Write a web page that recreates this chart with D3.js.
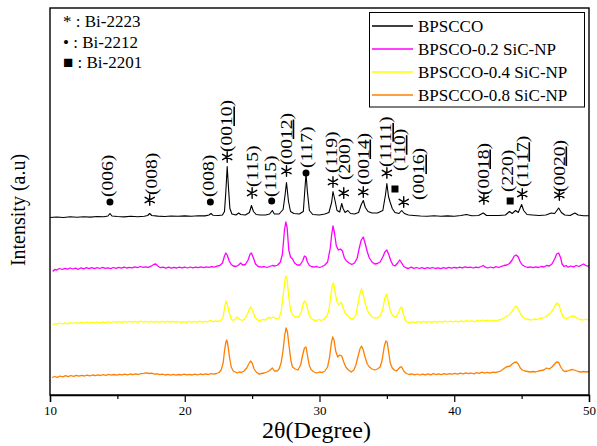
<!DOCTYPE html>
<html><head><meta charset="utf-8">
<script src="https://cdn.jsdelivr.net/npm/d3@7"></script>
<style>
html,body{margin:0;padding:0;background:#fff;}
svg{display:block;}
</style></head>
<body>
<svg id="chart" width="597" height="446"></svg>
<script>
// ---------------- DATA ----------------
const seriesNames = ["BPSCCO", "BPSCO-0.2 SiC-NP", "BPSCCO-0.4 SiC-NP", "BPSCCO-0.8 SiC-NP"];
const seriesColors = ["#000000", "#ff00ff", "#ffff00", "#ff7f00"];
const seriesOffsets = [178.5, 127, 73, 20];
const xTicks = [10, 20, 30, 40, 50];
const xMinorTicks = [15, 25, 35, 45];
const phaseLegend = ["* : Bi-2223", "\u2022 : Bi-2212", "\u25A0 : Bi-2201"];

const bpscco = [[10.0,-1],[10.5,-0.5],[11.0,-1],[11.5,-0.3],[12.0,-0.8],[12.5,-0.2],[13.0,-0.6],[13.5,0],[14.0,-0.3],[14.3,0.5],[14.45,3],[14.6,0.5],[15.0,0],[15.5,-0.4],[16.0,0.2],[16.5,-0.3],[17.0,0.3],[17.25,1],[17.4,3],[17.55,1],[18.0,0.4],[18.5,0],[19.0,0.5],[19.5,0.2],[20.0,0.6],[20.5,0.3],[21.0,0.8],[21.5,0.6],[21.8,1.5],[21.95,3],[22.1,1.2],[22.5,1],[22.8,1.5],[22.95,5],[23.05,25],[23.15,50],[23.25,28],[23.35,8],[23.5,2.5],[23.8,1.5],[24.0,3.5],[24.15,2],[24.5,1.5],[24.8,4],[24.95,11],[25.1,5],[25.3,2],[25.6,1.5],[26.0,1.5],[26.3,2.5],[26.5,6],[26.65,2.5],[27.0,2.5],[27.3,7],[27.45,22],[27.55,34],[27.7,15],[27.85,5],[28.1,3],[28.5,2.5],[28.8,5],[28.92,28],[29.0,43],[29.1,25],[29.25,6],[29.5,2],[30.0,1.5],[30.4,2.5],[30.7,4],[30.9,14],[31.0,25],[31.15,16],[31.3,6],[31.5,4.5],[31.65,13],[31.75,8],[31.9,4],[32.1,6],[32.3,3],[32.6,2.5],[32.9,4],[33.1,12],[33.25,16],[33.4,9],[33.6,5],[33.9,3.5],[34.3,3.5],[34.7,6],[34.9,22],[35.0,33],[35.12,20],[35.25,14],[35.4,8],[35.6,4],[35.9,3],[36.1,6],[36.3,3],[36.6,1.5],[37.0,1],[37.5,0.5],[38.0,0.3],[38.5,0.7],[39.0,0.3],[39.5,0.6],[40.0,0.3],[40.5,1],[40.9,2],[41.3,0.8],[41.8,1],[42.15,3.5],[42.4,1],[42.8,1],[43.3,1],[43.8,1.5],[44.1,5],[44.3,3],[44.55,6],[44.75,4],[45.0,12],[45.15,6],[45.4,2],[45.8,1.5],[46.3,1],[46.8,1.5],[47.2,3.5],[47.45,3],[47.75,8.5],[47.95,4],[48.2,1.5],[48.6,1],[48.95,3.5],[49.2,1.5],[49.6,0.7],[50.0,0.7]];

const sic02 = [[10.2,-3.5],[10.35,-1.5],[10.5,-2],[10.7,-0.5],[10.9,-1.5],[11.1,-0.3],[11.3,-1.2],[11.5,0],[11.7,-1],[11.9,-0.2],[12.1,-1.3],[12.3,0.2],[12.5,-0.8],[12.7,0.3],[12.9,-0.7],[13.1,0.4],[13.3,-0.6],[13.5,0.3],[13.7,-0.5],[13.9,0.6],[14.1,-0.4],[14.3,0.2],[14.5,-0.6],[14.7,0.5],[14.9,-0.3],[15.1,0.6],[15.3,-0.2],[15.5,0.8],[15.7,0],[15.9,0.7],[16.1,0.1],[16.3,1.2],[16.5,0.4],[16.7,1.5],[16.9,0.7],[17.1,1.2],[17.3,0.6],[17.5,1.8],[17.7,3.5],[17.85,4],[18.0,2],[18.2,0.3],[18.4,0.9],[18.6,-0.1],[18.8,0.8],[19.0,-0.2],[19.2,0.7],[19.4,0],[19.6,0.9],[19.8,0.1],[20.0,0.8],[20.2,0],[20.4,1],[20.6,0.2],[20.8,0.9],[21.0,0.3],[21.2,1.1],[21.4,0.4],[21.6,1.2],[21.8,0.6],[22.0,1.4],[22.2,0.8],[22.4,1.8],[22.6,2.5],[22.8,5],[22.95,12],[23.05,15],[23.15,13],[23.3,7],[23.45,3.5],[23.6,2],[23.8,1.5],[24.0,3],[24.15,5],[24.3,3],[24.5,3.5],[24.7,8],[24.85,14],[24.95,15],[25.1,10],[25.25,4],[25.45,1.5],[25.7,0.8],[25.9,1.5],[26.1,0.5],[26.3,1.5],[26.5,2.5],[26.7,2],[26.9,3],[27.1,6],[27.25,14],[27.4,38],[27.5,46],[27.6,40],[27.72,18],[27.85,11],[28.0,9],[28.15,5],[28.35,3],[28.55,3],[28.75,7],[28.88,12],[29.0,11],[29.1,6],[29.25,2.5],[29.4,1.5],[29.6,0.8],[29.8,1.5],[30.0,0.5],[30.2,1.5],[30.4,3],[30.6,6],[30.8,20],[30.9,33],[31.0,42],[31.1,36],[31.25,22],[31.4,18],[31.55,19],[31.7,17],[31.85,10],[32.0,7],[32.2,5],[32.4,3.5],[32.6,5],[32.8,10],[32.95,20],[33.1,28],[33.25,31],[33.4,24],[33.55,16],[33.7,10],[33.9,6],[34.1,4],[34.3,4.5],[34.5,6],[34.7,11],[34.85,16],[35.0,18],[35.15,13],[35.3,7],[35.45,3],[35.6,2],[35.8,5],[35.95,8],[36.1,5],[36.25,1.5],[36.45,0],[36.6,-0.5],[36.8,0.8],[37.0,-0.3],[37.2,0.5],[37.4,-0.5],[37.6,0.4],[37.8,-0.6],[38.0,0.3],[38.2,-0.4],[38.4,0.5],[38.6,-0.5],[38.8,0.2],[39.0,-0.6],[39.2,0.4],[39.4,-0.3],[39.6,0.6],[39.8,-0.2],[40.0,0.7],[40.2,0],[40.4,0.9],[40.6,0.1],[40.8,1.2],[41.0,0.3],[41.2,0.8],[41.4,0],[41.6,0.9],[41.8,0.4],[42.0,1.5],[42.15,2.5],[42.3,0.8],[42.5,0],[42.7,1],[42.9,0.2],[43.1,1.3],[43.3,0.5],[43.5,1.6],[43.7,2.5],[43.9,3],[44.1,4.5],[44.3,8],[44.45,12],[44.6,13],[44.75,11],[44.9,6],[45.05,3],[45.25,1.5],[45.45,0.5],[45.65,1.2],[45.85,0.3],[46.05,1.2],[46.25,0.5],[46.45,1.5],[46.65,1],[46.85,2.5],[47.05,2],[47.25,4],[47.45,9],[47.6,14],[47.75,15],[47.9,10],[48.0,4],[48.15,1.5],[48.3,2.5],[48.45,0.8],[48.65,2],[48.85,1.2],[49.05,2.5],[49.25,1.5],[49.45,3],[49.6,4],[49.75,2.5],[49.9,1.8],[50.0,2.5]];

const sic04 = [[10.2,-3],[10.35,-1.5],[10.5,-2.2],[10.7,-1],[10.9,-2],[11.1,-0.8],[11.3,-1.8],[11.5,-0.6],[11.7,-1.5],[11.9,-0.5],[12.1,-1.3],[12.3,-0.3],[12.5,-1.2],[12.7,0],[12.9,-1],[13.1,-0.1],[13.3,-1.1],[13.5,0],[13.7,-0.8],[13.9,0.2],[14.1,-0.6],[14.3,0.3],[14.5,-0.5],[14.7,0.5],[14.9,-0.4],[15.1,0.4],[15.3,-0.3],[15.5,0.6],[15.7,-0.2],[15.9,0.7],[16.1,-0.1],[16.3,0.5],[16.5,-0.3],[16.7,0.8],[16.9,0],[17.1,0.7],[17.3,-0.2],[17.5,0.6],[17.7,-0.1],[17.9,0.5],[18.1,-0.3],[18.3,0.6],[18.5,-0.1],[18.7,0.7],[18.9,0],[19.1,0.6],[19.3,-0.2],[19.5,0.5],[19.7,-0.3],[19.9,0.4],[20.1,-0.4],[20.3,0.6],[20.5,-0.1],[20.7,0.5],[20.9,-0.3],[21.1,0.8],[21.3,0],[21.5,0.7],[21.7,0.2],[21.9,1.6],[22.1,0.4],[22.3,1],[22.5,0.6],[22.7,2],[22.85,5],[22.95,14],[23.05,21],[23.15,18],[23.3,9],[23.45,3],[23.6,1.5],[23.75,3],[23.9,5],[24.05,3],[24.25,1.5],[24.45,3],[24.65,8],[24.8,13],[24.92,15],[25.05,11],[25.2,5],[25.4,2],[25.6,1.5],[25.8,2.5],[26.0,2],[26.2,4.5],[26.4,4],[26.6,5],[26.8,3],[27.0,4],[27.15,10],[27.3,26],[27.42,40],[27.5,46],[27.6,42],[27.72,25],[27.85,12],[28.0,7],[28.2,5],[28.45,5],[28.65,10],[28.8,19],[28.92,21],[29.05,17],[29.2,8],[29.35,4],[29.55,2],[29.75,1.5],[29.95,2.5],[30.15,1.5],[30.35,3],[30.55,6],[30.7,12],[30.85,28],[30.95,37],[31.05,39],[31.15,30],[31.3,20],[31.45,17],[31.6,20],[31.75,14],[31.9,9],[32.1,6],[32.3,3.5],[32.5,3],[32.7,7],[32.85,18],[33.0,28],[33.12,33],[33.25,27],[33.4,18],[33.55,12],[33.7,8],[33.9,5],[34.1,4],[34.3,4],[34.5,6],[34.7,13],[34.85,24],[34.97,28],[35.1,21],[35.25,11],[35.4,7],[35.55,5],[35.7,5.5],[35.85,9],[36.0,14],[36.1,15],[36.2,9],[36.35,2],[36.5,0],[36.7,-0.5],[36.9,0.3],[37.1,-0.6],[37.3,0.4],[37.5,-0.3],[37.7,0.6],[37.9,-0.2],[38.1,0.5],[38.3,-0.4],[38.5,0.7],[38.7,-0.1],[38.9,0.6],[39.1,-0.2],[39.3,0.8],[39.5,0],[39.7,0.9],[39.9,0.1],[40.1,0.8],[40.3,0.2],[40.5,1.2],[40.7,0.3],[40.9,1.3],[41.1,0.6],[41.3,1.2],[41.5,0.4],[41.7,1.5],[41.9,0.8],[42.1,2],[42.3,1],[42.5,1.6],[42.7,0.8],[42.9,1.3],[43.1,1],[43.3,2],[43.5,2.5],[43.7,4],[43.9,6],[44.1,7],[44.25,10],[44.4,13],[44.55,16],[44.7,14],[44.85,10],[45.0,6],[45.15,4],[45.35,3],[45.55,2.5],[45.75,2],[45.95,3],[46.15,2.5],[46.35,3.5],[46.55,4],[46.75,5],[46.95,7],[47.15,9],[47.35,13],[47.5,17],[47.65,19],[47.78,17],[47.9,11],[48.05,6],[48.2,4],[48.35,3],[48.55,5],[48.75,6],[48.95,5.5],[49.15,3.5],[49.35,2.5],[49.55,2],[49.75,3],[49.9,2],[50.0,3]];

const sic08 = [[10.15,-2.5],[10.35,-1.5],[10.55,-2.3],[10.75,-1],[10.95,-1.8],[11.15,-0.7],[11.35,-1.6],[11.55,-0.5],[11.75,-1.4],[11.95,-0.4],[12.15,-1.2],[12.35,-0.3],[12.55,-1],[12.75,-0.1],[12.95,-0.9],[13.15,0],[13.35,-0.7],[13.55,0.2],[13.75,-0.5],[13.95,0.4],[14.15,-0.4],[14.35,0.6],[14.55,-0.2],[14.75,0.5],[14.95,-0.1],[15.15,0.7],[15.35,0.1],[15.55,0.9],[15.75,0.2],[15.95,1],[16.15,0.3],[16.35,1.1],[16.55,0.5],[16.75,1.3],[16.95,1.6],[17.15,2.2],[17.35,1.5],[17.55,1.8],[17.75,0.8],[17.95,1.2],[18.15,0.3],[18.35,0.9],[18.55,0],[18.75,0.7],[18.95,-0.1],[19.15,0.6],[19.35,-0.2],[19.55,0.5],[19.75,0],[19.95,0.8],[20.15,0.1],[20.35,0.7],[20.55,0],[20.75,0.9],[20.95,0.2],[21.15,1],[21.35,0.3],[21.55,1.1],[21.75,0.5],[21.95,1.4],[22.15,0.8],[22.35,1.5],[22.55,2.5],[22.7,5],[22.85,12],[22.95,24],[23.05,33],[23.12,35],[23.2,30],[23.32,18],[23.45,8],[23.6,4],[23.75,3],[23.9,2],[24.05,3],[24.2,2.5],[24.4,4],[24.6,7],[24.75,11],[24.88,14],[25.0,12],[25.15,6],[25.3,3],[25.5,1],[25.7,1.5],[25.9,2],[26.1,3],[26.3,4.5],[26.5,7],[26.65,4],[26.85,4],[27.0,6],[27.15,12],[27.3,25],[27.42,40],[27.52,47],[27.62,43],[27.75,28],[27.88,14],[28.0,8],[28.2,6],[28.4,5],[28.6,10],[28.75,20],[28.88,27],[29.0,28],[29.1,20],[29.25,9],[29.4,5],[29.6,3],[29.8,2],[30.0,3],[30.2,2.5],[30.4,4],[30.6,8],[30.75,18],[30.88,32],[30.98,38],[31.08,35],[31.2,24],[31.35,18],[31.5,20],[31.65,19],[31.8,13],[31.95,8],[32.15,5],[32.35,3],[32.55,5],[32.7,10],[32.85,18],[33.0,26],[33.12,29],[33.25,25],[33.4,17],[33.55,11],[33.7,8],[33.9,6],[34.1,5],[34.3,6],[34.5,8],[34.65,15],[34.8,28],[34.92,34],[35.02,33],[35.12,24],[35.25,12],[35.4,7],[35.55,5],[35.7,4],[35.85,6],[36.0,8],[36.1,8],[36.25,4],[36.45,1.5],[36.65,0.5],[36.85,1.2],[37.05,0.2],[37.25,1],[37.45,0],[37.65,0.9],[37.85,0.1],[38.05,1.2],[38.25,0.2],[38.45,1.4],[38.65,0.5],[38.85,1.1],[39.05,0.3],[39.25,1.3],[39.45,0.6],[39.65,1.4],[39.85,0.8],[40.05,1.6],[40.25,0.9],[40.45,1.8],[40.65,1.2],[40.85,2.2],[41.05,1.4],[41.25,2],[41.45,1.2],[41.65,2.3],[41.85,1.6],[42.05,2.8],[42.25,1.8],[42.45,2.6],[42.65,1.9],[42.85,2.8],[43.05,2.5],[43.25,3.2],[43.45,4],[43.65,6],[43.85,8],[44.0,8.5],[44.15,9],[44.3,11],[44.45,12.5],[44.6,13],[44.75,11],[44.9,7],[45.05,5],[45.25,4],[45.45,3.5],[45.65,3],[45.85,3.5],[46.05,3],[46.25,4],[46.45,4.5],[46.65,5],[46.85,7],[47.05,6],[47.25,8],[47.45,11],[47.6,13],[47.75,12.5],[47.9,8],[48.05,5],[48.2,3.5],[48.4,4],[48.6,5],[48.8,5.5],[49.0,4.5],[49.2,3.5],[49.4,3],[49.6,3.5],[49.8,3],[50.0,3.5]];

const seriesData = [bpscco, sic02, sic04, sic08];

// peak annotations on the BPSCCO pattern
// phase: "s" = Bi-2223 (*), "d" = Bi-2212 (dot), "q" = Bi-2201 (square)
const annoPos = [14.45, 17.4, 21.9, 23.15, 25.0, 26.45, 27.55, 29.0, 31.0, 31.8, 33.25, 35.0, 35.6, 36.25, 42.2, 44.15, 45.05, 47.8];
const annoPhase = ["d","s","d","s","s","d","s","d","s","s","s","s","q","s","s","q","s","s"];
const annoMarkH = [14.5, 16.5, 14.5, 59.5, 23.5, 15.5, 45.5, 43.5, 34.5, 23.5, 24.5, 43.5, 27.5, 14.5, 17.5, 15.5, 22.5, 21.5];
const annoLabelX = [14.3, 17.55, 21.8, 23.15, 25.05, 26.4, 27.55, 29.05, 30.9, 31.85, 33.25, 34.95, 35.95, 37.4, 42.15, 44.0, 45.05, 47.8];
const annoLabelH = [19.5, 21.5, 19.5, 64.5, 29.5, 19.5, 51.5, 48.5, 43.5, 36.5, 31.5, 49.5, 45.5, 16.5, 21.5, 24.5, 29.5, 24.5];
const annoLabels = [["(006)"],["(008)"],["(008)"],["(00","10",")"],["(115)"],["(115)"],["(00","12",")"],["(117)"],["(119)"],["(200)"],["(00","14",")"],["(11","11",")"],["(1","10",")"],["(00","16",")"],["(00","18",")"],["(220)"],["(11","17",")"],["(00","20",")"]];

// ---------------- CHART ----------------
const FONT = "'Liberation Serif', 'Times New Roman', serif";
const svg = d3.select("#chart");
const W = 597, H = 446;
const m = {left: 50, right: 8, top: 8, bottom: 51};
const x = d3.scaleLinear().domain([10, 50]).range([m.left, W - m.right]);
const y = d3.scaleLinear().domain([0, 387]).range([H - m.bottom, m.top]);

const line = d3.line().x(d => x(d[0])).y(d => y(d[1]));
[3, 2, 1, 0].forEach(i => {
  const off = seriesOffsets[i];
  svg.append("path")
    .datum(seriesData[i].map(p => [p[0], p[1] + off]))
    .attr("fill", "none")
    .attr("stroke", seriesColors[i])
    .attr("stroke-width", i === 0 ? 1.1 : 1.3)
    .attr("stroke-linejoin", "round")
    .attr("d", line);
});

svg.append("rect")
  .attr("x", m.left).attr("y", m.top)
  .attr("width", W - m.right - m.left).attr("height", H - m.bottom - m.top)
  .attr("fill", "none").attr("stroke", "#000").attr("stroke-width", 1.4);

const gx = svg.append("g").attr("transform", `translate(0,${H - m.bottom})`)
  .call(d3.axisBottom(x).tickValues(xTicks).tickSize(7).tickPadding(4).tickFormat(d3.format("d")));
gx.attr("font-family", FONT);
gx.select(".domain").attr("stroke-width", 1.4);
gx.selectAll(".tick line").attr("stroke-width", 1.2);
gx.selectAll(".tick text").attr("font-size", 13);
const gx2 = svg.append("g").attr("transform", `translate(0,${H - m.bottom})`)
  .call(d3.axisBottom(x).tickValues(xMinorTicks).tickSize(4).tickFormat(""));
gx2.select(".domain").remove();
gx2.selectAll(".tick line").attr("stroke-width", 1.2);

svg.append("text").attr("x", (x(10) + x(50)) / 2 - 3).attr("y", 438)
  .attr("text-anchor", "middle").attr("font-size", 24).text("2\u03B8(Degree)");
svg.append("text").attr("transform", "translate(25,210) rotate(-90)")
  .attr("text-anchor", "middle").attr("font-size", 20).text("Intensity (a.u)");

function starPath(r) {
  const p = d3.path();
  [90, 30, -30].forEach(a => {
    const t = a * Math.PI / 180;
    p.moveTo(-r * Math.cos(t), r * Math.sin(t));
    p.lineTo(r * Math.cos(t), -r * Math.sin(t));
  });
  return p.toString();
}
const yBase = seriesOffsets[0];
annoPos.forEach((t, i) => {
  const cx = x(t), cy = y(yBase + annoMarkH[i]);
  const ph = annoPhase[i];
  if (ph === "s") {
    svg.append("path").attr("d", starPath(5.3)).attr("transform", `translate(${cx},${cy})`)
      .attr("stroke", "#000").attr("stroke-width", 1.4).attr("stroke-linecap", "round").attr("fill", "none");
  } else if (ph === "d") {
    svg.append("circle").attr("cx", cx).attr("cy", cy).attr("r", 3.5).attr("fill", "#000");
  } else {
    svg.append("rect").attr("x", cx - 3.5).attr("y", cy - 3.5).attr("width", 7).attr("height", 7).attr("fill", "#000");
  }
  const lx = x(annoLabelX[i]), ly = y(yBase + annoLabelH[i]);
  const txt = svg.append("text").attr("transform", `translate(${lx},${ly}) rotate(-90) scale(1.22,1)`)
    .attr("dy", "0.33em").attr("font-size", 16).attr("text-anchor", "start");
  annoLabels[i].forEach((part, k) => {
    const ts = txt.append("tspan").text(part);
    if (k === 1) ts.style("text-decoration", "underline");
  });
});

phaseLegend.forEach((s, i) => {
  svg.append("text").attr("x", 63).attr("y", 27 + i * 20.5).attr("font-size", 17).text(s);
});

const lg = svg.append("g");
lg.append("rect").attr("x", 369.5).attr("y", 12.5).attr("width", 215).attr("height", 94.5)
  .attr("fill", "#fff").attr("stroke", "#000").attr("stroke-width", 1);
seriesNames.forEach((n, i) => {
  const yy = 26 + i * 23;
  lg.append("line").attr("x1", 372).attr("x2", 413).attr("y1", yy).attr("y2", yy)
    .attr("stroke", seriesColors[i]).attr("stroke-width", 1.3);
  lg.append("text").attr("x", 418).attr("y", yy + 6).attr("font-size", 17).text(n);
});

svg.selectAll("text").attr("font-family", FONT).attr("fill", "#000");
</script>
</body></html>
